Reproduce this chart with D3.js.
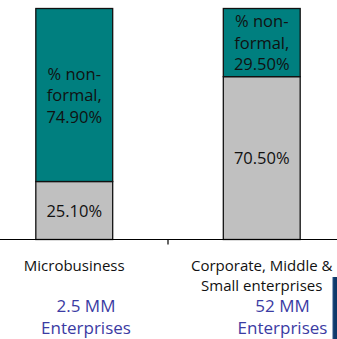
<!DOCTYPE html>
<html>
<head>
<meta charset="utf-8">
<script src="https://cdn.jsdelivr.net/npm/d3@7"></script>
<style>
  html, body { margin: 0; padding: 0; background: #fff; }
  svg { display: block; }
  text { font-family: "Open Sans", "Noto Sans", sans-serif; }
</style>
</head>
<body>
<svg id="chart" width="337" height="339"></svg>
<script>
// Enterprise segments and their formal / non-formal shares
const categories = ["Microbusiness", "Corporate, Middle & Small enterprises"];
const categoryLines = [["Microbusiness"], ["Corporate, Middle &", "Small enterprises"]];
const formalShare = [25.10, 70.50];
const nonFormalShare = [74.90, 29.50];
const enterpriseCounts = [["2.5 MM", "Enterprises"], ["52 MM", "Enterprises"]];

const svg = d3.select("#chart");
const W = 337, H = 339;

const x = d3.scaleBand()
  .domain(categories)
  .range([-19.5, 355.5])
  .paddingInner(0.59)
  .paddingOuter(0.295);

const y = d3.scaleLinear().domain([0, 100]).range([239.5, 8.5]);

const stackData = categories.map((c, i) => ({ cat: c, formal: formalShare[i], nonformal: nonFormalShare[i] }));
const series = d3.stack().keys(["formal", "nonformal"])(stackData);
const colors = { formal: "#c0c0c0", nonformal: "#007f7f" };

const g = svg.append("g");

series.forEach(s => {
  g.selectAll(null).data(s).enter().append("rect")
    .attr("x", d => x(d.data.cat))
    .attr("y", d => y(d[1]))
    .attr("width", x.bandwidth())
    .attr("height", d => y(d[0]) - y(d[1]))
    .attr("fill", colors[s.key])
    .attr("stroke", "#111")
    .attr("stroke-width", 1.3);
});

// Segment labels
const fmt = v => v.toFixed(2) + "%";
const lineH = 21.5;
series.forEach(s => {
  s.forEach(d => {
    const cx = x(d.data.cat) + x.bandwidth() / 2;
    const cy = (y(d[0]) + y(d[1])) / 2;
    const lines = s.key === "nonformal"
      ? ["% non-", "formal,", fmt(d.data[s.key])]
      : [fmt(d.data[s.key])];
    const t = g.append("text")
      .attr("text-anchor", "middle")
      .attr("font-size", 16.5)
      .attr("fill", "#111");
    lines.forEach((ln, k) => {
      t.append("tspan")
        .attr("x", cx)
        .attr("y", cy + 6 + (k - (lines.length - 1) / 2) * lineH)
        .text(ln);
    });
  });
});

// Category axis
const axisY = 239.5;
g.append("line")
  .attr("x1", 0).attr("x2", W)
  .attr("y1", axisY).attr("y2", axisY)
  .attr("stroke", "#000").attr("stroke-width", 1.2);
const boundary = x.range()[0] + x.step();
g.append("line")
  .attr("x1", boundary).attr("x2", boundary)
  .attr("y1", axisY).attr("y2", axisY + 5)
  .attr("stroke", "#000").attr("stroke-width", 1.2);

categories.forEach((c, i) => {
  const cx = x(c) + x.bandwidth() / 2;
  const t = g.append("text")
    .attr("text-anchor", "middle")
    .attr("font-size", 15)
    .attr("fill", "#111");
  categoryLines[i].forEach((ln, k) => {
    t.append("tspan").attr("x", cx).attr("y", 270.5 + k * 20).text(ln);
  });
});

// Enterprise counts
const countX = [86, 282.5];
enterpriseCounts.forEach((lines, i) => {
  const t = g.append("text")
    .attr("text-anchor", "middle")
    .attr("font-size", 17)
    .attr("fill", "#3b3ba3");
  lines.forEach((ln, k) => {
    t.append("tspan").attr("x", countX[i]).attr("y", 312 + k * 22).text(ln);
  });
});

// Navy edge panel on the right
const grad = svg.append("defs").append("linearGradient")
  .attr("id", "navy").attr("x1", 0).attr("x2", 1).attr("y1", 0).attr("y2", 0);
grad.append("stop").attr("offset", 0).attr("stop-color", "#2a5286");
grad.append("stop").attr("offset", 0.4).attr("stop-color", "#103a6c");
grad.append("stop").attr("offset", 1).attr("stop-color", "#0d3566");
svg.append("rect")
  .attr("x", 332.5).attr("y", 277)
  .attr("width", 5).attr("height", 62)
  .attr("fill", "url(#navy)");
</script>
</body>
</html>
